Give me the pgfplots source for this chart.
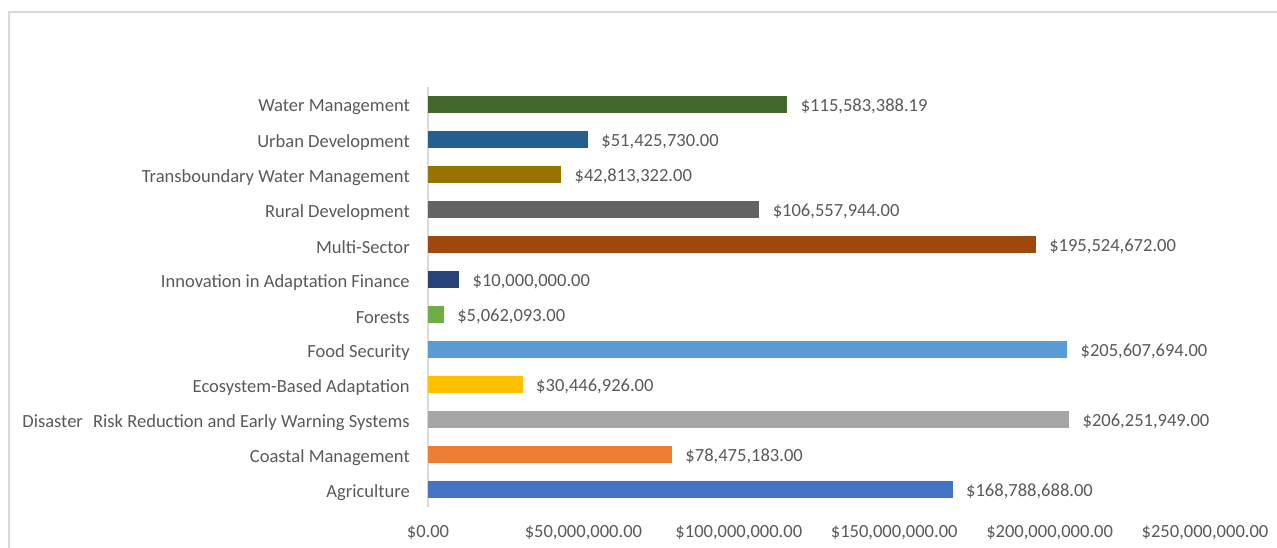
\documentclass[border=0pt]{standalone}
\usepackage{pgfplots}
\pgfplotsset{compat=1.18}
\usepackage{fontspec}
\setmainfont{Carlito}
\definecolor{txt}{HTML}{595959}
\definecolor{frame}{HTML}{D9D9D9}
\definecolor{cAgr}{HTML}{4472C4}
\definecolor{cCoa}{HTML}{ED7D31}
\definecolor{cDis}{HTML}{A5A5A5}
\definecolor{cEco}{HTML}{FFC000}
\definecolor{cFood}{HTML}{5B9BD5}
\definecolor{cFor}{HTML}{70AD47}
\definecolor{cInn}{HTML}{264478}
\definecolor{cMul}{HTML}{9E480E}
\definecolor{cRur}{HTML}{636363}
\definecolor{cTra}{HTML}{997300}
\definecolor{cUrb}{HTML}{255E91}
\definecolor{cWat}{HTML}{43682B}
\begin{document}
\begin{tikzpicture}
% page frame, in pixels of the reference (1px = 0.75pt)
\begin{scope}[x=0.75pt,y=0.75pt]
\useasboundingbox (-428,-40) rectangle (849,507);
\draw[frame, line width=1.2pt] (-419,-45) -- (-419,495) -- (855,495);
\end{scope}
\begin{axis}[
  at={(0,0)}, anchor=south west,
  scale only axis, width=582.75pt, height=315pt,
  xbar, bar width=12.75pt, bar shift=0pt,
  xmin=0, xmax=250000000,
  ymin=-0.5, ymax=11.5,
  scaled x ticks=false,
  xtick={0,50000000,100000000,150000000,200000000,250000000},
  xticklabels={{\$0.00},{\$50,000,000.00},{\$100,000,000.00},{\$150,000,000.00},{\$200,000,000.00},{\$250,000,000.00}},
  ytick={0,...,11},
  yticklabels={Agriculture,Coastal Management,Disaster\hspace{0.55em}Risk Reduction and Early Warning Systems,Ecosystem-Based Adaptation,Food Security,Forests,Innovation in Adaptation Finance,Multi-Sector,Rural Development,Transboundary Water Management,Urban Development,Water Management},
  axis x line*=bottom, axis y line*=left,
  x axis line style={draw=none},
  y axis line style={draw=frame, line width=0.9pt},
  major tick length=0pt,
  tick label style={font=\fontsize{13.9}{16}\selectfont, text=txt},
  y tick label style={inner sep=0pt, anchor=east, xshift=-13.5pt, yshift=-2pt},
  x tick label style={inner sep=0pt, anchor=north, yshift=-14pt},
  point meta=explicit symbolic,
  nodes near coords,
  every node near coord/.append style={font=\fontsize{13.9}{16}\selectfont, text=txt, anchor=west, inner sep=0pt, xshift=10pt, yshift=-1.5pt},
]
\addplot[fill=cAgr, draw=none] coordinates {(168788688,0) [\$168,788,688.00]};
\addplot[fill=cCoa, draw=none] coordinates {(78475183,1) [\$78,475,183.00]};
\addplot[fill=cDis, draw=none] coordinates {(206251949,2) [\$206,251,949.00]};
\addplot[fill=cEco, draw=none] coordinates {(30446926,3) [\$30,446,926.00]};
\addplot[fill=cFood, draw=none] coordinates {(205607694,4) [\$205,607,694.00]};
\addplot[fill=cFor, draw=none] coordinates {(5062093,5) [\$5,062,093.00]};
\addplot[fill=cInn, draw=none] coordinates {(10000000,6) [\$10,000,000.00]};
\addplot[fill=cMul, draw=none] coordinates {(195524672,7) [\$195,524,672.00]};
\addplot[fill=cRur, draw=none] coordinates {(106557944,8) [\$106,557,944.00]};
\addplot[fill=cTra, draw=none] coordinates {(42813322,9) [\$42,813,322.00]};
\addplot[fill=cUrb, draw=none] coordinates {(51425730,10) [\$51,425,730.00]};
\addplot[fill=cWat, draw=none] coordinates {(115583388.19,11) [\$115,583,388.19]};
\end{axis}
\end{tikzpicture}
\end{document}
